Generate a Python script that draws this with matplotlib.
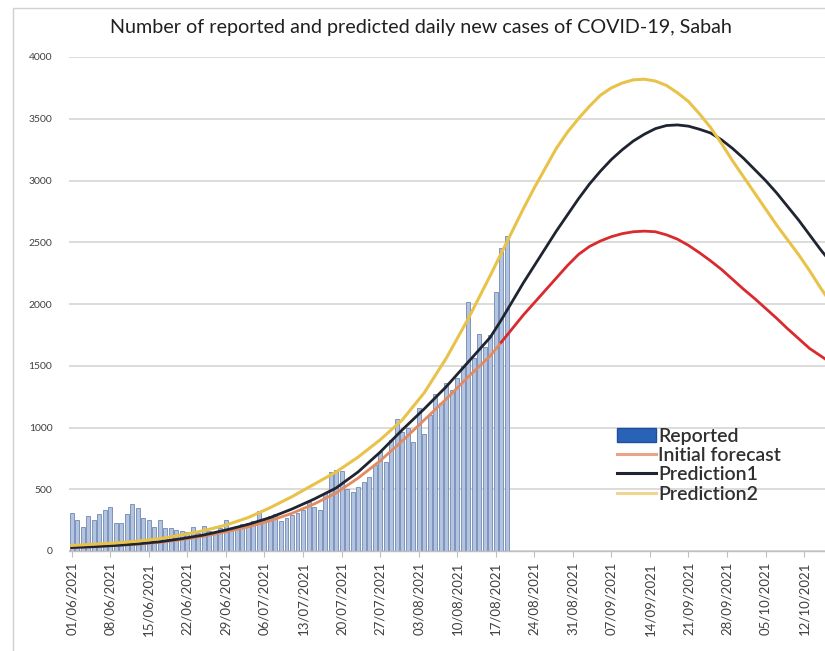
import matplotlib
matplotlib.use("Agg")
import matplotlib.pyplot as plt
from matplotlib.patches import Patch, Rectangle
from matplotlib.lines import Line2D

# ── data (day 0 = 01/06/2021) ────────────────────────────────────────────────
REPORTED = [
    305, 250, 195, 285, 250, 300, 330,        # 01-07 Jun
    355, 225, 225, 300, 380, 345, 265,        # 08-14 Jun
    250, 195, 250, 185, 185, 170, 160,        # 15-21 Jun
    150, 195, 145, 200, 165, 155, 185,        # 22-28 Jun
    250, 190, 205, 215, 230, 240, 320,        # 29 Jun-05 Jul
    255, 280, 300, 245, 265, 290, 305,        # 06-12 Jul
    335, 400, 360, 330, 470, 640, 655,        # 13-19 Jul
    645, 500, 480, 520, 560, 600, 700,        # 20-26 Jul
    800, 720, 900, 1065, 960, 1000, 880,      # 27 Jul-02 Aug
    1160, 950, 1100, 1270, 1200, 1360, 1300,  # 03-09 Aug
    1400, 1500, 2020, 1560, 1760, 1650, 1750, # 10-16 Aug
    2100, 2450, 2550,                          # 17-19 Aug
]

CURVE_DAYS = [0, 4, 8, 12, 16, 20, 24, 28, 32, 36, 40, 44, 48, 52, 56, 60, 64,
              68, 72, 76, 78, 80, 82, 84, 86, 88, 90, 92, 94, 96, 98, 100, 102,
              104, 106, 108, 110, 112, 114, 116, 118, 120, 122, 124, 126, 128,
              130, 132, 134, 136, 138]
INITIAL = [28, 35, 45, 55, 70, 92, 120, 155, 195, 245, 305, 380, 470, 590, 730,
           890, 1060, 1230, 1410, 1580, 1690, 1800, 1910, 2010, 2110, 2210,
           2310, 2400, 2465, 2510, 2545, 2570, 2585, 2590, 2585, 2560, 2525,
           2475, 2415, 2350, 2280, 2200, 2120, 2045, 1965, 1885, 1800, 1720,
           1640, 1580, 1520]
PRED1 = [28, 35, 45, 58, 75, 100, 130, 170, 215, 270, 340, 420, 510, 640, 800,
         980, 1150, 1330, 1530, 1730, 1870, 2020, 2170, 2310, 2450, 2590, 2720,
         2850, 2970, 3075, 3170, 3250, 3320, 3375, 3420, 3445, 3450, 3440,
         3415, 3385, 3330, 3260, 3180, 3090, 3000, 2900, 2790, 2680, 2560,
         2440, 2330]
PRED2 = [45, 55, 65, 80, 100, 130, 165, 210, 270, 350, 440, 540, 640, 760, 900,
         1060, 1280, 1560, 1880, 2230, 2410, 2590, 2770, 2940, 3100, 3260,
         3390, 3500, 3600, 3690, 3750, 3790, 3815, 3820, 3805, 3770, 3710,
         3640, 3540, 3430, 3300, 3160, 3030, 2900, 2770, 2640, 2520, 2400,
         2270, 2130, 2000]

TICK_DAYS = list(range(0, 137, 7))
TICK_LABELS = ["01/06/2021", "08/06/2021", "15/06/2021", "22/06/2021",
               "29/06/2021", "06/07/2021", "13/07/2021", "20/07/2021",
               "27/07/2021", "03/08/2021", "10/08/2021", "17/08/2021",
               "24/08/2021", "31/08/2021", "07/09/2021", "14/09/2021",
               "21/09/2021", "28/09/2021", "05/10/2021", "12/10/2021"]
Y_TICKS = [0, 500, 1000, 1500, 2000, 2500, 3000, 3500, 4000]

SPLIT = 20  # index in CURVE_DAYS where the reported period ends

fig = plt.figure(figsize=(8.25, 6.51), dpi=100)
fig.patch.set_facecolor("white")
plt.rcParams["font.family"] = ["Lato", "DejaVu Sans"]

# chart frame (cropped on right/bottom)
fig.add_artist(Rectangle((13 / 825, -0.1), 1.2, 1 - 8 / 651 + 0.1,
                         transform=fig.transFigure, fill=False,
                         edgecolor="#d0d0d0", linewidth=1.0))

ax = fig.add_axes([69 / 825, 1 - 551 / 651, 1 - 69 / 825, (551 - 57) / 651])
ax.set_facecolor("none")

days = list(range(len(REPORTED)))
ax.bar(days, REPORTED, width=0.72, color="#b3c4e0", edgecolor="#6f88b3",
       linewidth=0.6, zorder=2)

ax.plot(CURVE_DAYS[:SPLIT + 1], INITIAL[:SPLIT + 1], color="#e48a60", lw=2.0,
        zorder=3, solid_joinstyle="round")
ax.plot(CURVE_DAYS[SPLIT:], INITIAL[SPLIT:], color="#d92a2e", lw=2.0, zorder=3,
        solid_joinstyle="round")
ax.plot(CURVE_DAYS, PRED1, color="#1e2430", lw=2.0, zorder=4, solid_joinstyle="round")
ax.plot(CURVE_DAYS, PRED2, color="#e9c24a", lw=2.2, zorder=5, solid_joinstyle="round")

ax.set_xlim(-0.5, 136.8)
ax.set_ylim(0, 4000)
ax.set_yticks(Y_TICKS)
ax.set_yticklabels([str(v) for v in Y_TICKS], fontsize=7.5, color="#404040")
ax.tick_params(axis="y", length=0, pad=12)
ax.set_xticks(TICK_DAYS)
ax.set_xticklabels(TICK_LABELS, rotation=90, fontsize=9.5, color="#404040",
                   va="top", ha="center")
ax.tick_params(axis="x", length=4, width=0.8, color="#bfbfbf", pad=4)

ax.grid(axis="y", color="#d9d9d9", linewidth=1.3, zorder=0)
ax.set_axisbelow(True)
for side in ("top", "right", "left"):
    ax.spines[side].set_visible(False)
ax.spines["bottom"].set_color("#bfbfbf")
ax.spines["bottom"].set_linewidth(1.0)

fig.text(421 / 825, 1 - 27 / 651,
         "Number of reported and predicted daily new cases of COVID-19, Sabah",
         ha="center", va="center", fontsize=14.2, color="#202020")

handles = [
    Patch(facecolor="#2a62b8", edgecolor="#1d4f9c"),
    Line2D([], [], color="#e8a488", lw=2.2),
    Line2D([], [], color="#1e2430", lw=2.2),
    Line2D([], [], color="#f0d490", lw=2.2),
]
labels = ["Reported", "Initial forecast", "Prediction1", "Prediction2"]
leg = fig.legend(handles, labels, loc="upper left",
                 bbox_to_anchor=(603 / 825, 1 - 414 / 651), frameon=False,
                 prop={"size": 14, "weight": "semibold"}, handlelength=2.0,
                 handletextpad=0.15, labelspacing=0.12, borderpad=0.2)
for t in leg.get_texts():
    t.set_color("#303030")

fig.savefig("out.png", dpi=100, facecolor="white")
